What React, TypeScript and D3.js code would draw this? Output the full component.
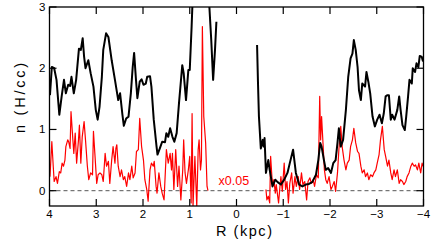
import * as React from "react"
import * as d3 from "d3"

// black: total gas density, two segments (left/right of centre)
const blackLeftR = [3.99, 3.95, 3.9, 3.85, 3.79, 3.74, 3.69, 3.65, 3.6, 3.56, 3.53, 3.48, 3.43, 3.37, 3.33, 3.29, 3.26, 3.23, 3.17, 3.12, 3.06, 3.01, 2.97, 2.93, 2.88, 2.85, 2.79, 2.74, 2.67, 2.6, 2.53, 2.49, 2.44, 2.41, 2.36, 2.31, 2.26, 2.22, 2.19, 2.15, 2.12, 2.07, 2.03, 1.99, 1.94, 1.91, 1.85, 1.82, 1.77, 1.71, 1.69, 1.64, 1.59, 1.53, 1.5, 1.46, 1.42, 1.37, 1.33, 1.28, 1.23, 1.16, 1.13, 1.08, 1.03, 1.0, 0.96, 0.93, 0.85, 0.75, 0.65, 0.58, 0.54, 0.5, 0.46, 0.43]
const blackLeftN = [1.56, 2.02, 2.0, 1.81, 1.24, 1.54, 1.81, 1.59, 1.73, 1.71, 1.86, 1.59, 1.81, 2.32, 2.3, 2.49, 2.19, 2.0, 2.13, 1.92, 1.7, 1.32, 1.16, 1.37, 1.86, 2.3, 2.57, 2.51, 2.13, 1.81, 1.48, 1.59, 1.24, 1.06, 1.18, 1.21, 1.59, 2.02, 2.25, 1.81, 1.51, 1.78, 1.82, 1.73, 1.75, 1.86, 1.87, 1.7, 1.16, 0.72, 0.59, 0.69, 0.8, 0.79, 0.94, 0.88, 1.02, 0.88, 0.8, 0.94, 1.43, 2.05, 1.92, 1.48, 1.97, 1.97, 2.68, 3.3, 3.8, 4.0, 3.6, 3.0, 2.46, 1.81, 2.3, 2.76]

const blackRightR = [-0.44, -0.46, -0.48, -0.52, -0.56, -0.58, -0.6, -0.63, -0.68, -0.71, -0.77, -0.83, -0.88, -0.95, -1.02, -1.09, -1.14, -1.21, -1.27, -1.34, -1.41, -1.48, -1.55, -1.62, -1.7, -1.75, -1.79, -1.82, -1.87, -1.91, -1.96, -2.02, -2.07, -2.12, -2.16, -2.19, -2.23, -2.28, -2.34, -2.39, -2.44, -2.48, -2.51, -2.55, -2.59, -2.62, -2.66, -2.69, -2.75, -2.78, -2.82, -2.86, -2.91, -2.96, -3.01, -3.06, -3.11, -3.15, -3.19, -3.23, -3.26, -3.3, -3.33, -3.38, -3.44, -3.48, -3.51, -3.55, -3.6, -3.63, -3.67, -3.7, -3.75, -3.77, -3.82, -3.85, -3.89, -3.92, -3.96, -3.99]
const blackRightN = [2.38, 1.75, 1.21, 0.69, 0.83, 0.72, 0.86, 0.29, 0.5, 0.34, 0.07, 0.18, 0.14, 0.1, 0.18, 0.29, 0.45, 0.67, 0.29, 0.1, 0.07, 0.1, 0.11, 0.14, 0.26, 0.5, 0.78, 0.72, 0.5, 0.34, 0.37, 0.29, 0.45, 0.5, 0.78, 1.02, 0.72, 0.83, 1.32, 1.86, 2.16, 2.24, 2.46, 2.3, 2.02, 1.64, 1.48, 1.75, 1.7, 1.94, 1.78, 1.59, 1.21, 1.05, 1.16, 1.24, 1.1, 1.26, 1.54, 1.56, 1.56, 1.16, 1.24, 1.16, 1.32, 1.54, 1.32, 1.07, 0.99, 1.21, 1.54, 1.81, 1.75, 2.0, 1.94, 2.08, 2.02, 2.2, 2.19, 2.11]

// red: scaled by x0.05
const redLeftR = [3.99, 3.95, 3.92, 3.9, 3.86, 3.83, 3.79, 3.76, 3.73, 3.7, 3.67, 3.65, 3.61, 3.59, 3.56, 3.54, 3.5, 3.48, 3.45, 3.42, 3.38, 3.36, 3.33, 3.3, 3.26, 3.23, 3.19, 3.16, 3.12, 3.08, 3.06, 3.03, 2.99, 2.96, 2.92, 2.88, 2.85, 2.81, 2.78, 2.74, 2.71, 2.67, 2.64, 2.6, 2.58, 2.56, 2.53, 2.49, 2.46, 2.42, 2.39, 2.35, 2.31, 2.28, 2.24, 2.21, 2.17, 2.14, 2.1, 2.07, 2.03, 1.99, 1.96, 1.92, 1.89, 1.85, 1.82, 1.78, 1.76, 1.72, 1.7, 1.66, 1.62, 1.59, 1.55, 1.52, 1.5, 1.46, 1.42, 1.39, 1.37, 1.34, 1.3, 1.26, 1.23, 1.19, 1.15, 1.13, 1.1, 1.07, 1.03, 1.0, 0.97, 0.95, 0.93, 0.89, 0.85, 0.82, 0.8, 0.77, 0.75, 0.73, 0.7, 0.66, 0.63, 0.61]
const redLeftN = [0.23, 0.8, 0.4, 0.15, 0.23, 0.12, 0.31, 0.29, 0.45, 0.4, 0.5, 0.72, 0.83, 0.8, 0.69, 1.29, 0.83, 0.61, 0.94, 0.45, 0.83, 1.07, 0.45, 0.88, 1.13, 0.83, 0.4, 0.18, 0.29, 0.26, 0.97, 0.61, 0.12, 0.26, 0.29, 0.26, 0.15, 0.61, 0.4, 0.48, 0.12, 0.5, 0.72, 0.45, 0.69, 0.75, 0.4, 0.23, 0.34, 0.18, 0.23, 0.07, 0.29, 0.18, 0.4, 0.21, 0.29, 0.64, 0.67, 1.18, 0.72, 0.5, 0.18, 0.02, -0.17, 0.34, 0.45, 0.4, 0.48, 0.07, -0.04, 0.29, 0.07, -0.04, -0.15, 0.34, 0.67, 0.45, 0.61, 0.34, 0.61, 0.02, 0.67, 0.07, 0.4, -0.15, 0.34, 0.83, 0.29, 0.12, 0.34, 0.56, -0.2, 1.26, -0.26, 0.56, -0.26, 0.67, 0.83, 0.34, 0.5, 2.68, 1.21, 0.78, 0.07, 0.0]

const redRightR = [-0.63, -0.65, -0.68, -0.71, -0.73, -0.77, -0.8, -0.83, -0.85, -0.9, -0.93, -0.95, -0.98, -1.02, -1.05, -1.08, -1.11, -1.14, -1.18, -1.21, -1.25, -1.28, -1.32, -1.35, -1.39, -1.42, -1.46, -1.5, -1.53, -1.57, -1.6, -1.64, -1.67, -1.71, -1.75, -1.78, -1.8, -1.82, -1.85, -1.88, -1.91, -1.94, -1.98, -2.02, -2.05, -2.09, -2.12, -2.16, -2.19, -2.23, -2.26, -2.3, -2.34, -2.37, -2.41, -2.44, -2.48, -2.51, -2.55, -2.59, -2.62, -2.66, -2.69, -2.73, -2.76, -2.8, -2.83, -2.87, -2.91, -2.94, -2.98, -3.01, -3.05, -3.08, -3.12, -3.16, -3.19, -3.23, -3.26, -3.3, -3.33, -3.37, -3.4, -3.44, -3.48, -3.51, -3.55, -3.58, -3.62, -3.65, -3.69, -3.73, -3.76, -3.8, -3.83, -3.87, -3.9, -3.94, -3.97, -3.99]
const redRightN = [0.02, -0.15, -0.09, -0.2, 0.56, 0.07, 0.18, -0.04, 0.1, -0.2, 0.07, 0.23, -0.01, 0.45, 0.02, 0.15, -0.2, 0.12, 0.29, -0.04, 0.23, 0.07, 0.23, 0.02, 0.29, 0.1, 0.15, -0.15, 0.15, 0.21, 0.12, 0.18, 0.07, 0.26, 0.21, 1.54, 0.83, 1.21, 0.78, 0.34, 0.18, 0.12, 0.23, 0.02, 0.07, 0.15, -0.01, 0.29, 0.67, 1.05, 0.72, 0.5, 0.34, 0.45, 0.5, 0.72, 0.83, 1.02, 0.78, 0.64, 0.61, 0.4, 0.29, 0.34, 0.23, 0.29, 0.18, 0.26, 0.23, 0.29, 0.34, 0.45, 0.59, 0.83, 1.05, 0.67, 0.56, 0.4, 0.5, 0.29, 0.18, 0.34, 0.23, 0.34, 0.12, 0.18, 0.15, 0.1, 0.15, 0.23, 0.29, 0.4, 0.45, 0.4, 0.42, 0.34, 0.45, 0.29, 0.45, 0.4]

const xTicks = [4, 3, 2, 1, 0, -1, -2, -3, -4]
const yTicks = [0, 1, 2, 3]

const width = 436
const height = 244
const margin = { top: 7, right: 12.5, bottom: 38, left: 49.5 }
const font = "'Liberation Sans', Arial, sans-serif"

const fmt = (v: number) => (v < 0 ? "\u2212" + Math.abs(v) : String(v))

export default function App() {
  const x = d3.scaleLinear().domain([4, -4]).range([margin.left, width - margin.right])
  const y = d3.scaleLinear().domain([-0.25, 3]).range([height - margin.bottom, margin.top])
  const x0 = margin.left
  const x1 = width - margin.right
  const y0 = height - margin.bottom
  const y1 = margin.top

  const line = d3
    .line<[number, number]>()
    .x((d) => x(d[0]))
    .y((d) => y(d[1]))

  const zip = (a: number[], b: number[]) => a.map((v, i) => [v, b[i]] as [number, number])
  const tick = 7

  return (
    <svg width={width} height={height} style={{ position: "absolute", left: 0, top: 0, background: "#fff" }}>
      <defs>
        <clipPath id="plot">
          <rect x={x0} y={y1} width={x1 - x0} height={y0 - y1} />
        </clipPath>
      </defs>
      <line x1={x0} x2={x1} y1={y(0)} y2={y(0)} stroke="#555" strokeWidth={1} strokeDasharray="4,3" />
      <g clipPath="url(#plot)" fill="none" strokeLinejoin="round">
        <path d={line(zip(redLeftR, redLeftN)) ?? ""} stroke="#ff0000" strokeWidth={1.2} />
        <path d={line(zip(redRightR, redRightN)) ?? ""} stroke="#ff0000" strokeWidth={1.2} />
        <path d={line(zip(blackLeftR, blackLeftN)) ?? ""} stroke="#000" strokeWidth={2} />
        <path d={line(zip(blackRightR, blackRightN)) ?? ""} stroke="#000" strokeWidth={2} />
      </g>
      <text x={218.5} y={185} fill="#ff0000" fontFamily={font} fontSize={12.5}>
        x0.05
      </text>
      <rect x={x0} y={y1} width={x1 - x0} height={y0 - y1} fill="none" stroke="#000" strokeWidth={1.3} />
      <g stroke="#000" strokeWidth={1.2}>
        {xTicks.map((t) => (
          <g key={"xt" + t}>
            <line x1={x(t)} x2={x(t)} y1={y0} y2={y0 - tick} />
            <line x1={x(t)} x2={x(t)} y1={y1} y2={y1 + tick} />
          </g>
        ))}
        {yTicks.map((t) => (
          <g key={"yt" + t}>
            <line x1={x0} x2={x0 + tick} y1={y(t)} y2={y(t)} />
            <line x1={x1} x2={x1 - tick} y1={y(t)} y2={y(t)} />
          </g>
        ))}
      </g>
      <g fontFamily={font} fontSize={11.5} fill="#000">
        {xTicks.map((t) => (
          <text key={"xl" + t} x={x(t)} y={217.5} textAnchor="middle">
            {fmt(t)}
          </text>
        ))}
        {yTicks.map((t) => (
          <text key={"yl" + t} x={45.5} y={y(t)} dy="0.35em" textAnchor="end">
            {t}
          </text>
        ))}
      </g>
      <text x={216} y={236} fontFamily={font} fontSize={14.5} textLength={56} lengthAdjust="spacing">
        R (kpc)
      </text>
      <text
        transform="translate(25,98) rotate(-90)"
        textAnchor="middle"
        fontFamily={font}
        fontSize={14.5}
        textLength={70}
        lengthAdjust="spacing"
      >
        n (H/cc)
      </text>
    </svg>
  )
}
